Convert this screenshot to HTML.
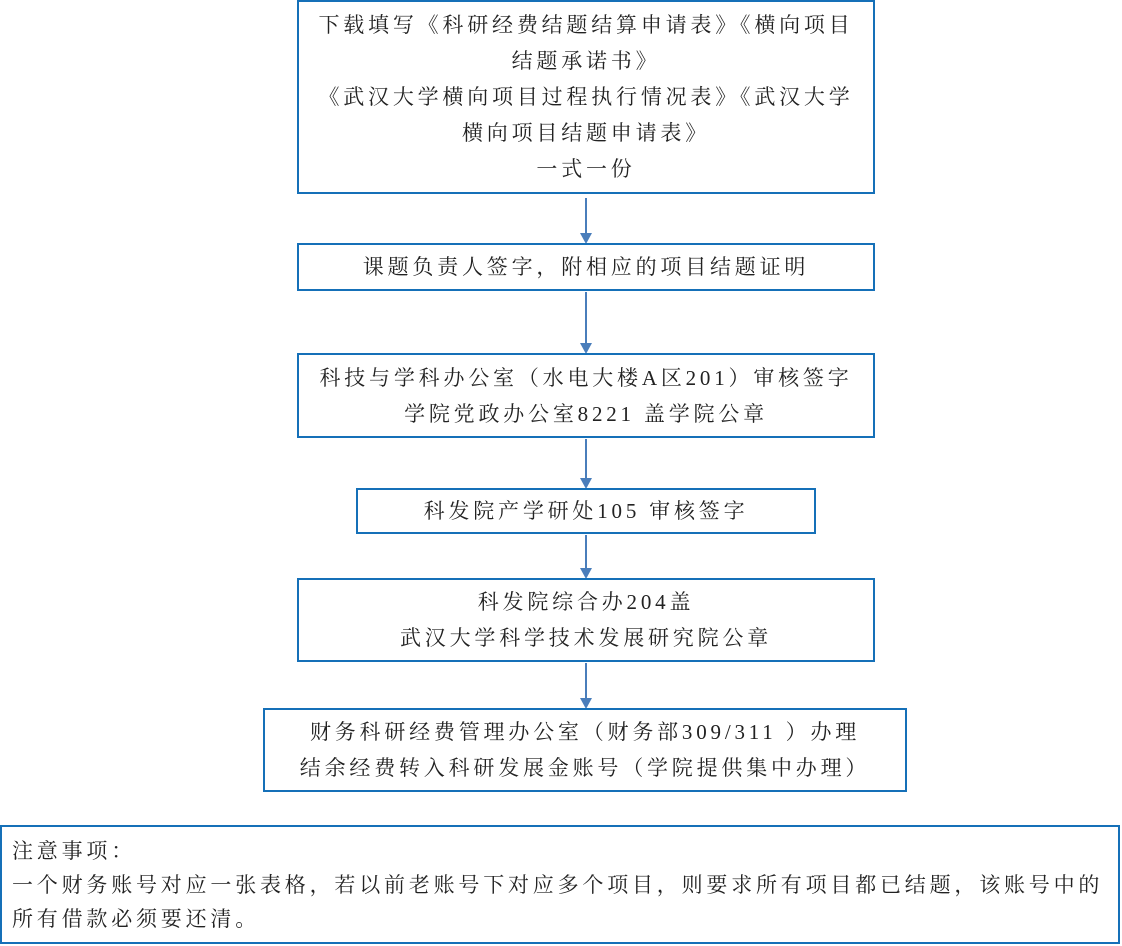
<!DOCTYPE html>
<html><head><meta charset="utf-8"><style>
body{margin:0;width:1122px;height:946px;background:#fff;position:relative;overflow:hidden;font-family:"Liberation Serif","Noto Serif CJK SC",serif;color:#222}
.b{position:absolute;box-sizing:border-box;border:2px solid #1570b8;display:flex;flex-direction:column;align-items:center;justify-content:center;text-align:center;font-size:21px;letter-spacing:3.8px;line-height:36px;white-space:nowrap}
.a{position:absolute;left:585px;width:2px;background:#4a7ebb}
.h{position:absolute;left:580px;width:0;height:0;border-left:6px solid transparent;border-right:6px solid transparent;border-top:11px solid #4a7ebb}
.n{position:absolute;left:0;top:825px;width:1120px;height:119px;box-sizing:border-box;border:2px solid #1570b8;font-size:21px;letter-spacing:3.8px;line-height:34px;padding:7px 0 0 10px}
</style></head><body>
<div class="b" style="left:297px;top:0;width:578px;height:194px">
<div>下载填写《科研经费结题结算申请表》《横向项目</div><div>结题承诺书》</div><div>《武汉大学横向项目过程执行情况表》《武汉大学</div><div>横向项目结题申请表》</div><div>一式一份</div></div>
<div class="a" style="top:198px;height:36px"></div><div class="h" style="top:233px"></div>
<div class="b" style="left:297px;top:243px;width:578px;height:48px"><div>课题负责人签字，附相应的项目结题证明</div></div>
<div class="a" style="top:292px;height:52px"></div><div class="h" style="top:343px"></div>
<div class="b" style="left:297px;top:353px;width:578px;height:85px"><div>科技与学科办公室（水电大楼A区201）审核签字</div><div>学院党政办公室8221 盖学院公章</div></div>
<div class="a" style="top:439px;height:40px"></div><div class="h" style="top:478px"></div>
<div class="b" style="left:356px;top:488px;width:460px;height:46px"><div>科发院产学研处105 审核签字</div></div>
<div class="a" style="top:535px;height:34px"></div><div class="h" style="top:568px"></div>
<div class="b" style="left:297px;top:578px;width:578px;height:84px"><div>科发院综合办204盖</div><div>武汉大学科学技术发展研究院公章</div></div>
<div class="a" style="top:663px;height:36px"></div><div class="h" style="top:698px"></div>
<div class="b" style="left:263px;top:708px;width:644px;height:84px"><div>财务科研经费管理办公室（财务部309/311 ）办理</div><div>结余经费转入科研发展金账号（学院提供集中办理）</div></div>
<div class="n">注意事项：<br>一个财务账号对应一张表格，若以前老账号下对应多个项目，则要求所有项目都已结题，该账号中的<br>所有借款必须要还清。</div>
</body></html>
